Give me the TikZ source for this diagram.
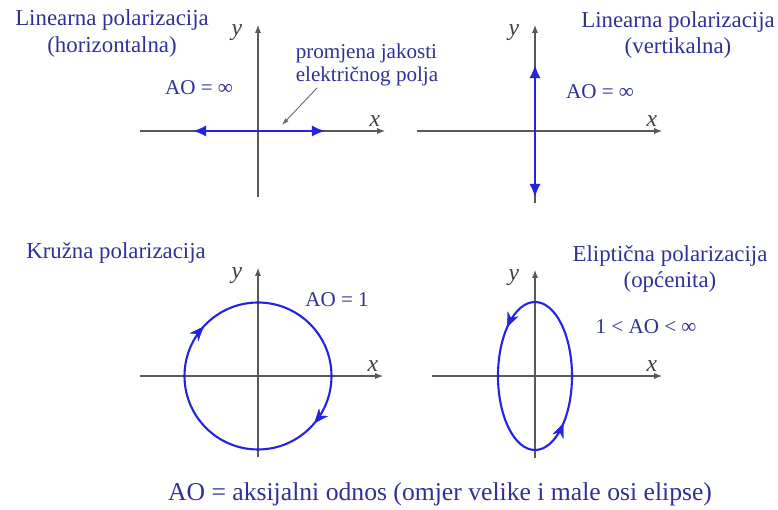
\documentclass[tikz,border=0pt]{standalone}
\usepackage{fontspec}
\setmainfont{Liberation Serif}
\usetikzlibrary{arrows.meta,decorations.markings,positioning}
\definecolor{txtblue}{RGB}{48,48,150}
\definecolor{polblue}{RGB}{35,35,225}
% coordinate axes: name, origin, xmin, xmax, ymin, ymax
\newcommand{\polaxes}[6]{\begin{scope}[shift={(#2)}]
  \coordinate (#1) at (0,0);
  \draw[axline] (#3,0) -- (#4,0);
  \draw[axline] (0,#5) -- (0,#6);
  \node[axlbl] (#1x) at (#4-0.2,0.2) {x};
  \node[axlbl] (#1y) at (-0.42,#6-0.16) {y};\end{scope}}

\begin{document}
\begin{tikzpicture}[
  axline/.style={draw=black!65,line width=0.6pt,-{Latex[length=4.5pt,width=3.5pt]}},
  pol/.style={draw=polblue,line width=1.2pt,>={Latex[length=7.5pt,width=6.5pt]}},
  heading/.style={text=txtblue,font=\fontsize{13}{15.3}\selectfont,align=center},
  note/.style={text=txtblue,font=\fontsize{12}{13.6}\selectfont,align=center},
  axlbl/.style={text=black!75,font=\fontsize{13.5}{15}\selectfont\itshape,inner sep=1pt},
  ptr/.style={draw=black!60,line width=0.5pt,-{Latex[length=4pt,width=2.5pt]}},
  midarr/.style={postaction={decorate},decoration={markings,
    mark=at position #1 with {\arrow{Stealth[length=8pt,width=6.5pt]}}}},
  midrev/.style={postaction={decorate},decoration={markings,
    mark=at position #1 with {\arrowreversed{Stealth[length=8pt,width=6.5pt]}}}}]
\useasboundingbox (0,0) rectangle (15.56,10.2);

\polaxes{A}{5.16,7.58}{-2.36}{2.54}{-1.32}{2.12}
\polaxes{B}{10.70,7.58}{-2.36}{2.54}{-1.44}{2.12}
\polaxes{C}{5.16,2.68}{-2.36}{2.50}{-1.62}{2.16}
\polaxes{D}{10.70,2.68}{-2.06}{2.54}{-1.64}{2.12}

% linear, horizontal
\node[heading] (t1) at (2.24,9.53) {Linearna polarizacija\\(horizontalna)};
\node[note] (ao1) at (3.98,8.44) {AO = ∞};
\draw[pol,<->] ([xshift=-1.30cm]A) -- ([xshift=1.34cm]A);
\node[note,align=left] (prom) at (7.34,8.9) {promjena jakosti\\električnog polja};
\coordinate (ptrend) at ([shift={(0.48,0.12)}]A);
\draw[ptr] ([xshift=0.55cm,yshift=0.1cm]prom.south west) -- (ptrend);

% linear, vertical
\node[heading] (t2) at (13.56,9.5) {Linearna polarizacija\\(vertikalna)};
\node[note] (ao2) at (12.0,8.36) {AO = ∞};
\draw[pol,<->] ([yshift=-1.32cm]B) -- ([yshift=1.32cm]B);

% circular
\node[heading] (t3) at (2.32,5.14) {Kružna polarizacija};
\node[note] (ao3) at (6.74,4.2) {AO = 1};
\draw[pol,midrev=0.383,midrev=0.889] (C) circle[radius=1.47];

% elliptical
\node[heading] (t4) at (13.4,4.82) {Eliptična polarizacija\\(općenita)};
\node[note] (ao4) at (12.92,3.66) {1 < AO < ∞};
\draw[pol,midarr=0.36,midarr=0.865] (D) ellipse[x radius=0.74,y radius=1.48];

\node[heading,font=\fontsize{14.6}{17}\selectfont] (legend) at (8.8,0.32) {AO = aksijalni odnos (omjer velike i male osi elipse)};
\end{tikzpicture}
\end{document}
